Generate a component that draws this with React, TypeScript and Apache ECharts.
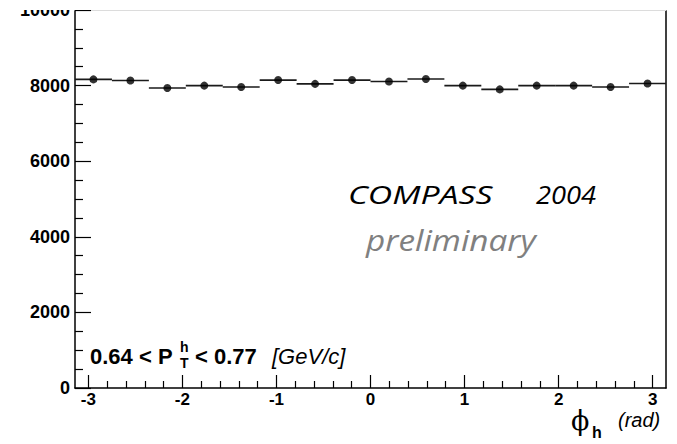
import React, { useEffect, useRef } from "react";
import * as echarts from "echarts";

// Azimuthal distribution of hadrons, 16 bins over [-pi, pi]
const binCount = 16;
const counts = [
  8164, 8136, 7936, 8000, 7964, 8146, 8045, 8146,
  8109, 8173, 8000, 7900, 8000, 8000, 7964, 8055,
];

const xTicks = [-3, -2, -1, 0, 1, 2, 3];
const yTicks = [0, 2000, 4000, 6000, 8000, 10000];

const PHI_MIN = -Math.PI;
const PHI_MAX = Math.PI;

const SANS = "'Liberation Sans', Arial, Helvetica, sans-serif";
const HUMANIST = "'Open Sans', sans-serif";

export default function App() {
  const ref = useRef<HTMLDivElement>(null);

  useEffect(() => {
    if (!ref.current) return;
    const chart = echarts.init(ref.current, null, { renderer: "svg" });

    const binWidth = (PHI_MAX - PHI_MIN) / binCount;
    const bins = counts.map((c, i) => {
      const lo = PHI_MIN + i * binWidth;
      return [lo, lo + binWidth, c];
    });
    const points = bins.map((b) => [(b[0] + b[1]) / 2, b[2]]);

    // minor x ticks every 0.2 between the labelled integers
    const xMinor: number[] = [];
    for (let i = 0; i < xTicks.length - 1; i++) {
      for (let k = 1; k < 5; k++) {
        xMinor.push(Math.round((xTicks[i] + k * 0.2) * 10) / 10);
      }
    }

    const frame = { color: "#000", width: 1.5 };

    chart.setOption({
      animation: false,
      backgroundColor: "#ffffff",
      grid: { left: 75, right: 11, top: 10, bottom: 56 },
      xAxis: [
        {
          type: "value",
          min: PHI_MIN,
          max: PHI_MAX,
          position: "bottom",
          axisLine: { show: true, onZero: false, lineStyle: frame },
          axisTick: {
            show: true,
            inside: true,
            length: 13,
            customValues: xTicks,
            lineStyle: { color: "#000", width: 1.2 },
          },
          axisLabel: {
            customValues: xTicks,
            formatter: (v: number) => String(v),
            color: "#000",
            fontSize: 17,
            lineHeight: 15,
            fontWeight: "bold",
            fontFamily: SANS,
            margin: 4,
          },
          splitLine: { show: false },
        },
        {
          type: "value",
          min: PHI_MIN,
          max: PHI_MAX,
          position: "bottom",
          axisLine: { show: false, onZero: false },
          axisTick: {
            show: true,
            inside: true,
            length: 7,
            customValues: xMinor,
            lineStyle: { color: "#000", width: 1.2 },
          },
          axisLabel: { show: false },
          splitLine: { show: false },
        },
        {
          type: "value",
          min: PHI_MIN,
          max: PHI_MAX,
          position: "top",
          axisLine: { show: true, onZero: false, lineStyle: { color: "#dcdcdc", width: 1 } },
          axisTick: { show: false },
          axisLabel: { show: false },
          splitLine: { show: false },
        },
      ],
      yAxis: [
        {
          type: "value",
          min: yTicks[0],
          max: yTicks[yTicks.length - 1],
          interval: yTicks[1] - yTicks[0],
          position: "left",
          axisLine: { show: true, onZero: false, lineStyle: frame },
          axisTick: { show: true, inside: true, length: 16, lineStyle: { color: "#000", width: 1.2 } },
          minorTick: { show: true, splitNumber: 4, length: 8, lineStyle: { color: "#000", width: 1.2 } },
          axisLabel: {
            formatter: (v: number) => String(v),
            color: "#000",
            fontSize: 18,
            fontWeight: "bold",
            fontFamily: SANS,
            margin: 5,
          },
          splitLine: { show: false },
        },
        {
          type: "value",
          min: yTicks[0],
          max: yTicks[yTicks.length - 1],
          position: "right",
          axisLine: { show: true, onZero: false, lineStyle: frame },
          axisTick: { show: false },
          axisLabel: { show: false },
          splitLine: { show: false },
        },
      ],
      series: [
        {
          // horizontal bin-width bars
          type: "custom",
          xAxisIndex: 0,
          yAxisIndex: 0,
          data: bins,
          encode: { x: [0, 1], y: 2 },
          renderItem: (params: any, api: any) => {
            const a = api.coord([api.value(0), api.value(2)]);
            const b = api.coord([api.value(1), api.value(2)]);
            return {
              type: "line",
              shape: { x1: a[0], y1: a[1], x2: b[0], y2: b[1] },
              style: { stroke: "#1a1a1a", lineWidth: 1.6 },
            };
          },
        },
        {
          type: "scatter",
          xAxisIndex: 0,
          yAxisIndex: 0,
          data: points,
          symbol: "circle",
          symbolSize: 8,
          itemStyle: { color: "#000" },
          z: 3,
        },
      ],
      graphic: [
        // white band above the frame
        {
          type: "rect",
          left: 0,
          top: 0,
          z: 100,
          shape: { width: 677, height: 10 },
          style: { fill: "#ffffff" },
        },
        {
          type: "text",
          x: 348,
          y: 194,
          scaleX: 1.3,
          style: {
            text: "COMPASS",
            fill: "#000",
            font: `italic 26px ${HUMANIST}`,
            verticalAlign: "middle",
          },
        },
        {
          type: "text",
          x: 536,
          y: 194,
          scaleX: 1.05,
          style: {
            text: "2004",
            fill: "#000",
            font: `italic 26px ${HUMANIST}`,
            verticalAlign: "middle",
          },
        },
        {
          type: "text",
          x: 366,
          y: 240,
          scaleX: 1.17,
          style: {
            text: "preliminary",
            fill: "#808080",
            font: `italic 28.5px ${HUMANIST}`,
            verticalAlign: "middle",
          },
        },
        // kinematic range label
        {
          type: "text",
          x: 90,
          y: 356,
          style: {
            text: "0.64 < P",
            fill: "#000",
            font: `bold 22px ${SANS}`,
            verticalAlign: "middle",
          },
        },
        {
          type: "text",
          x: 180,
          y: 347,
          style: {
            text: "h",
            fill: "#000",
            font: `bold 14px ${SANS}`,
            verticalAlign: "middle",
          },
        },
        {
          type: "text",
          x: 180,
          y: 363,
          style: {
            text: "T",
            fill: "#000",
            font: `bold 14px ${SANS}`,
            verticalAlign: "middle",
          },
        },
        {
          type: "text",
          x: 195,
          y: 356,
          style: {
            text: "< 0.77",
            fill: "#000",
            font: `bold 22px ${SANS}`,
            verticalAlign: "middle",
          },
        },
        {
          type: "text",
          x: 272,
          y: 356,
          style: {
            text: "[GeV/c]",
            fill: "#000",
            font: `italic 22px ${SANS}`,
            verticalAlign: "middle",
          },
        },
        // x axis title
        {
          type: "text",
          x: 571,
          y: 420,
          style: {
            text: "ϕ",
            fill: "#000",
            font: "27px 'DejaVu Serif', serif",
            verticalAlign: "middle",
          },
        },
        {
          type: "text",
          x: 592,
          y: 432,
          style: {
            text: "h",
            fill: "#000",
            font: `bold 16px ${SANS}`,
            verticalAlign: "middle",
          },
        },
        {
          type: "text",
          x: 618,
          y: 420,
          style: {
            text: "(rad)",
            fill: "#000",
            font: `italic 20px ${SANS}`,
            lineHeight: 19,
            verticalAlign: "middle",
          },
        },
      ],
    });

    return () => chart.dispose();
  }, []);

  return (
    <div
      ref={ref}
      style={{ position: "fixed", left: 0, top: 0, width: 677, height: 444, background: "#fff" }}
    />
  );
}
